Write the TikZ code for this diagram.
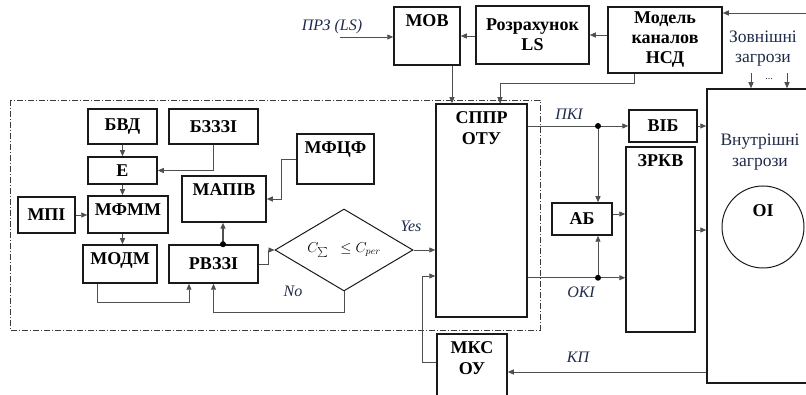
\documentclass[tikz,border=0pt]{standalone}
\usepackage{fontspec}
\setmainfont{Liberation Serif}
\usepackage{xcolor}
\definecolor{cBox}{HTML}{1A1A1A}
\definecolor{cLine}{HTML}{4F4F4F}
\definecolor{cLabel}{HTML}{1F2B4A}
\definecolor{cFrame}{HTML}{3A3A3A}
\usetikzlibrary{positioning,arrows.meta,shapes.geometric,calc}
\tikzset{
  node-box/.style={draw=cBox,line width=1.5pt,rectangle,inner sep=2pt,align=center,
    font=\fontsize{18}{20}\selectfont\bfseries},
  top-text/.style={anchor=north,inner sep=3pt,yshift=-5pt,align=center,
    font=\fontsize{18}{21}\selectfont\bfseries},
  node-top/.style={label={[top-text]north:#1}},
  node-cond/.style={draw=cBox,line width=1pt,diamond,aspect=1.7,minimum width=138pt,
    minimum height=82pt,inner sep=0pt,text=black,font=\fontsize{14}{15}\selectfont},
  node-obj/.style={draw=cBox,line width=1pt,circle,minimum size=82pt,inner sep=0pt},
  node-label/.style={font=\fontsize{16}{18}\selectfont\itshape,text=cLabel,inner sep=0pt},
  node-text/.style={font=\fontsize{17.5}{20.5}\selectfont,text=cLabel,align=center,inner sep=0pt},
  arrow/.style={-{Triangle[length=6pt,width=5pt]},line width=0.9pt,draw=cLine},
  link/.style={line width=0.9pt,draw=cLine},
  frame/.style={draw=cFrame,line width=0.7pt,dash pattern=on 6pt off 2pt on 1pt off 2pt},
}
\begin{document}
\begin{tikzpicture}[x=1pt,y=-1pt]
  \clip (0,0) rectangle (806,395);
  \draw[frame] (10,100) rectangle (540,330);

  % top row
  \node[node-box,minimum width=66pt,minimum height=58pt,node-top=МОВ] (mov) at (427,36) {};
  \node[node-box,minimum width=113pt,minimum height=58pt] (ls) at (532.5,35) {Розрахунок\\LS};
  \node[node-box,minimum width=114pt,minimum height=66pt] (nsd) at (665,40) {Модель\\каналов\\НСД};
  \node[node-label] (prz) at (332,27) {ПРЗ (LS)};
  \coordinate (prz-in) at (340,37);
  \coordinate (ext-in) at (806,13);

  % left block
  \node[node-box,minimum width=69pt,minimum height=35pt] (bvd) at (122.5,126.5) {БВД};
  \node[node-box,minimum width=89pt,minimum height=35pt] (bzzzi) at (213.5,126.5) {БЗЗЗІ};
  \node[node-box,minimum width=69pt,minimum height=27pt] (e) at (122.5,170.5) {Е};
  \node[node-box,minimum width=80pt,minimum height=37pt,node-top=МФММ] (mfmm) at (128,214.5) {};
  \node[node-box,minimum width=57pt,minimum height=36pt] (mpi) at (46.5,215) {МПІ};
  \node[node-box,minimum width=74pt,minimum height=38pt,node-top=МОДМ] (modm) at (120,264) {};
  \node[node-box,minimum width=89pt,minimum height=38pt] (rvzzi) at (213.5,264) {РВЗЗІ};
  \node[node-box,minimum width=84pt,minimum height=46pt,node-top=МАПІВ] (mapiv) at (224,199) {};
  \node[node-box,minimum width=77pt,minimum height=50pt,node-top=МФЦФ] (mfcf) at (335.5,159) {};
  \node[node-cond] (cond) at (344,250) {$C_{\sum}\;\;\le C_{per}$};
  \node[node-label] (yes) at (411,226) {Yes};
  \node[node-label] (no) at (293,291) {No};
  \coordinate (rv-fork) at ([xshift=9.5pt]rvzzi.north);

  \node[node-box,minimum width=91pt,minimum height=213pt,node-top={СППР\\ОТУ}] (sppr) at (481.5,210.5) {};
  \node[node-box,minimum width=70pt,minimum height=86pt,node-top={МКС\\ОУ}] (mks) at (472,377) {};

  % right block
  \node[node-box,minimum width=68pt,minimum height=32pt] (vib) at (663,126) {ВІБ};
  \node[node-box,minimum width=60pt,minimum height=32pt] (ab) at (582,219) {АБ};
  \node[node-box,minimum width=69pt,minimum height=185pt,node-top=ЗРКВ] (zrkv) at (660.5,239.5) {};
  \node[node-box,minimum width=123pt,minimum height=294pt] (obj) at (768.5,236) {};
  \node[node-text] (threat-in) at (760,152) {Внутрішні\\загрози};
  \node[node-obj,label={[top-text,yshift=-11pt]north:ОІ}] (oi) at (763,227) {};
  \node[node-text] (threat-out) at (763,48.5) {Зовнішні\\загрози};
  \node[font=\fontsize{10}{10}\selectfont,text=cLabel,inner sep=0pt] (more) at (769,79) {...};
  \coordinate (ext1) at (751,73);
  \coordinate (ext2) at (787,73);
  \node[node-label] (pki) at (569,114) {ПКІ};
  \node[node-label] (oki) at (581,292) {ОКІ};
  \node[node-label] (kp) at (578,357) {КП};
  \coordinate (pki-fork) at ([xshift=16pt]ab.north |- vib.west);
  \coordinate (oki-fork) at ([yshift=-42pt]ab.south -| pki-fork);

  \draw[arrow] (prz-in) -- (mov.west |- prz-in);
  \draw[arrow] (ls.west |- mov.east) -- (mov.east);
  \draw[arrow] (nsd.west |- 0,35) -- (ls.east |- 0,35);
  \draw[arrow] (ext-in) -- (nsd.east |- ext-in);
  \draw[arrow] ([xshift=25pt]mov.south) -- ([xshift=25pt]mov.south |- sppr.north);
  \draw[link] ([xshift=-31pt]nsd.south) -- ++(0,10) -| ([xshift=18.5pt]sppr.north);
  \draw[arrow] ([xshift=18.5pt]sppr.north |- 0,90) -- ([xshift=18.5pt]sppr.north);

  \draw[arrow] (bvd) -- (e);
  \draw[arrow] (bzzzi.south) |- (e.east);
  \draw[arrow] (e.south) -- (e.south |- mfmm.north);
  \draw[arrow] (e.south |- mfmm.south) -- (e.south |- modm.north);
  \draw[arrow] (mpi.east) -- (mfmm.west |- mpi.east);
  \draw[arrow] ([xshift=-23pt]modm.south) -- ++(0,19) -| ([xshift=-24.5pt]rvzzi.south);
  \draw[arrow] (cond.south) -- ++(0,21) -| (rvzzi.south);
  \draw[arrow] (rvzzi.east) -- ++(10,0) |- (cond.west);
  \draw[arrow,line width=1.4pt] (rv-fork) -- (rv-fork |- mapiv.south);
  \fill (rv-fork) circle (3pt);
  \draw[arrow] (mfcf.west) -- ++(-15,0) |- (mapiv.east);
  \draw[arrow] (cond.east) -- (sppr.west |- cond.east);
  \draw[arrow] ([yshift=15pt]mks.west) -- ++(-14,0) |- ([yshift=-65.5pt]sppr.west);

  \draw[link] (sppr.east |- pki-fork) -- (pki-fork);
  \draw[arrow] (pki-fork) -- (vib.west);
  \draw[arrow] (pki-fork) -- (pki-fork |- ab.north);
  \draw[link] (sppr.east |- oki-fork) -- (oki-fork);
  \draw[arrow] (oki-fork) -- (zrkv.west |- oki-fork);
  \draw[arrow] (oki-fork) -- (oki-fork |- ab.south);
  \fill (pki-fork) circle (3pt);
  \fill (oki-fork) circle (3pt);
  \draw[arrow] ([yshift=5pt]ab.east) -- ([yshift=5pt]ab.east -| zrkv.west);
  \draw[arrow] (vib.east) -- (obj.west |- vib.east);
  \draw[arrow] ([yshift=9.5pt]zrkv.east) -- ([yshift=9.5pt]zrkv.east -| obj.west);
  \draw[arrow] ([yshift=5pt]mks.east -| obj.west) -- ([yshift=5pt]mks.east);
  \draw[arrow] (ext1) -- (ext1 |- obj.north);
  \draw[arrow] (ext2) -- (ext2 |- obj.north);
\end{tikzpicture}
\end{document}
